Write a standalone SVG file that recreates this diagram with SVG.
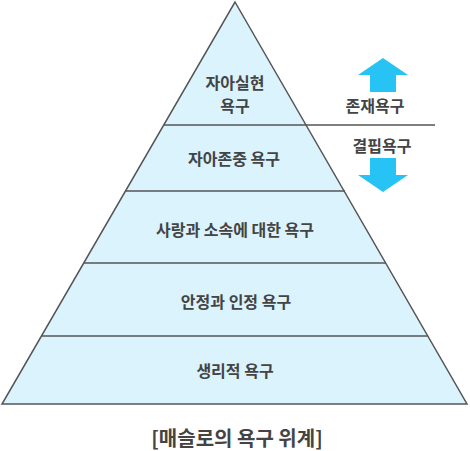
<svg xmlns="http://www.w3.org/2000/svg" width="470" height="451" viewBox="0 0 470 451">
<style>
.t{font-family:"Noto Sans CJK KR","Noto Sans",sans-serif;font-weight:bold;font-size:16px;fill:#444;text-anchor:middle}
.ln{stroke:#555;stroke-width:1.5;fill:none}
.ar{fill:#27c3f5}
</style>
<rect width="470" height="451" fill="#fff"/>
<g id="pyramid">
<polygon points="235,2 467,404 2,404" fill="#daf3fd" stroke="#555" stroke-width="1.5"/>
</g>
<g id="connectors">
<line class="ln" x1="164" y1="125" x2="435" y2="125"/>
<line class="ln" x1="125" y1="191" x2="345" y2="191"/>
<line class="ln" x1="84" y1="263" x2="386" y2="263"/>
<line class="ln" x1="42" y1="336" x2="428" y2="336"/>
</g>
<g id="level1"><text class="t" x="235" y="89">자아실현</text><text class="t" x="235" y="112">욕구</text></g>
<g id="level2"><text class="t" x="234" y="165">자아존중 욕구</text></g>
<g id="level3"><text class="t" x="235" y="236">사랑과 소속에 대한 욕구</text></g>
<g id="level4"><text class="t" x="236" y="308">안정과 인정 욕구</text></g>
<g id="level5"><text class="t" x="235" y="377">생리적 욕구</text></g>
<g id="up"><polygon class="ar" points="383,58 408,75 396,75 396,92 370,92 370,75 358,75"/><text class="t" x="375" y="112">존재욕구</text></g>
<g id="down"><polygon class="ar" points="370,158 396,158 396,175 408,175 383,192 358,175 370,175"/><text class="t" x="382" y="152">결핍욕구</text></g>
<g id="caption"><text class="t" x="237" y="446" style="font-size:20px">[매슬로의 욕구 위계]</text></g>
</svg>
